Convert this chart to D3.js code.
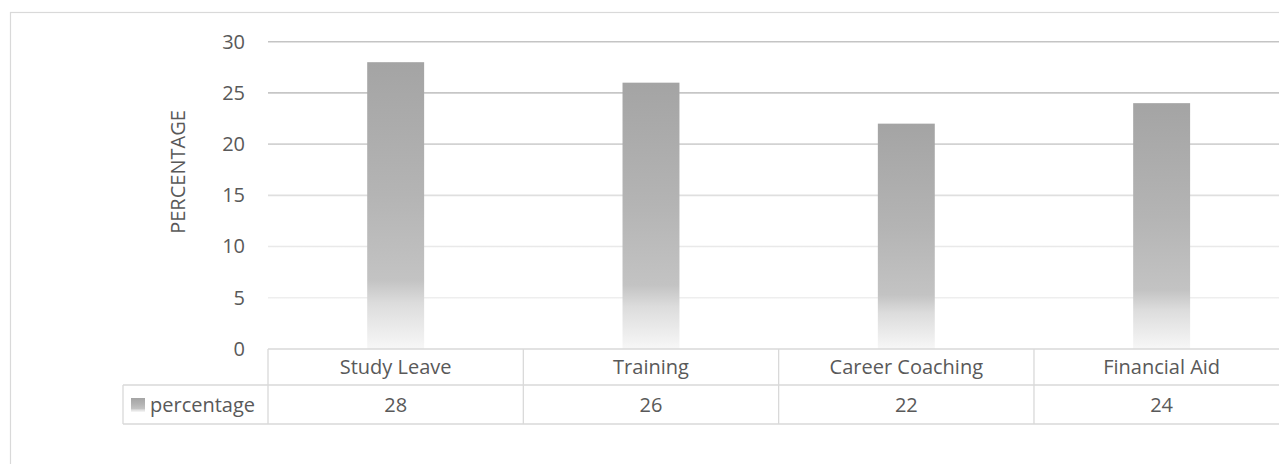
<!DOCTYPE html>
<html>
<head>
<meta charset="utf-8">
<script src="https://cdn.jsdelivr.net/npm/d3@7"></script>
<style>
  html, body { margin: 0; padding: 0; background: #fff; }
  svg { display: block; }
  text { font-family: "Open Sans", "DejaVu Sans", sans-serif; fill: #595959; }
</style>
</head>
<body>
<svg id="chart" width="1279" height="464"></svg>
<script>
// Data
const categories = ["Study Leave", "Training", "Career Coaching", "Financial Aid"];
const seriesName = "percentage";
const values = [28, 26, 22, 24];
const yTicks = [0, 5, 10, 15, 20, 25, 30];
const axisTitle = "PERCENTAGE";

const W = 1279, H = 464;
const svg = d3.select("#chart");

// Layout
const plotLeft = 268, plotRight = 1289.3;
const plotTop = 41.7, plotBottom = 349;
const headerBottom = 385, rowBottom = 424;
const keyLeft = 123;
const borderColor = "#d9d9d9";

const x = d3.scaleBand().domain(categories).range([plotLeft, plotRight]).padding(0);
const xBar = d3.scaleBand().domain(categories).range([plotLeft, plotRight])
  .paddingInner(0.777).paddingOuter(0.3885);
const y = d3.scaleLinear().domain([0, 30]).range([plotBottom, plotTop]);

const defs = svg.append("defs");

// Bar fill: darker grey at the top fading to near white at the base
const barGrad = defs.append("linearGradient")
  .attr("id", "barFill").attr("x1", 0).attr("y1", 0).attr("x2", 0).attr("y2", 1);
[[0, "#a4a4a4"], [0.46, "#b4b4b4"], [0.76, "#c3c3c3"], [0.84, "#dcdcdc"], [1, "#f7f7f7"]]
  .forEach(([o, c]) => barGrad.append("stop").attr("offset", o).attr("stop-color", c));

// Gridlines fade as they approach the baseline
const gridGrad = defs.append("linearGradient")
  .attr("id", "gridStroke").attr("gradientUnits", "userSpaceOnUse")
  .attr("x1", 0).attr("x2", 0).attr("y1", y(30)).attr("y2", y(0));
[[0, "#c4c4c4"], [0.2, "#c7c7c7"], [0.45, "#dcdcdc"], [0.7, "#ebebeb"], [1, "#f2f2f2"]]
  .forEach(([o, c]) => gridGrad.append("stop").attr("offset", o).attr("stop-color", c));

// Chart area border
svg.append("rect")
  .attr("x", 10.5).attr("y", 12.5).attr("width", W + 20).attr("height", H + 20)
  .attr("fill", "#fff").attr("stroke", borderColor).attr("stroke-width", 1.2);

// Horizontal gridlines
svg.append("g").selectAll("line")
  .data(yTicks.filter(d => d > 0))
  .join("line")
  .attr("x1", plotLeft).attr("x2", plotRight)
  .attr("y1", d => y(d)).attr("y2", d => y(d))
  .attr("stroke", "url(#gridStroke)").attr("stroke-width", 1.6);

// Y axis tick labels
const yAxis = d3.axisLeft(y).tickValues(yTicks).tickSize(0).tickPadding(0);
const gy = svg.append("g").attr("transform", `translate(${245},0)`).call(yAxis);
gy.select(".domain").remove();
gy.selectAll("text")
  .attr("font-size", 20).attr("fill", "#595959")
  .style("font-family", '"Open Sans", "DejaVu Sans", sans-serif');

// Axis title
svg.append("text")
  .attr("transform", `translate(${185},${172}) rotate(-90)`)
  .attr("text-anchor", "middle")
  .attr("font-size", 20)
  .text(axisTitle);

// Bars
svg.append("g").selectAll("rect")
  .data(categories.map((c, i) => ({ c, v: values[i] })))
  .join("rect")
  .attr("x", d => xBar(d.c))
  .attr("width", xBar.bandwidth())
  .attr("y", d => y(d.v))
  .attr("height", d => y(0) - y(d.v))
  .attr("fill", "url(#barFill)");

// Data table
const table = svg.append("g").attr("fill", "none").attr("stroke", borderColor).attr("stroke-width", 1.3);
// horizontal rules
table.append("line").attr("x1", plotLeft).attr("x2", plotRight + 20).attr("y1", plotBottom).attr("y2", plotBottom);
table.append("line").attr("x1", keyLeft).attr("x2", plotRight + 20).attr("y1", headerBottom).attr("y2", headerBottom);
table.append("line").attr("x1", keyLeft).attr("x2", plotRight + 20).attr("y1", rowBottom).attr("y2", rowBottom);
// key cell left edge
table.append("line").attr("x1", keyLeft).attr("x2", keyLeft).attr("y1", headerBottom).attr("y2", rowBottom);
// column separators
table.selectAll("line.sep")
  .data(categories.concat(["__end"]))
  .join("line").attr("class", "sep")
  .attr("x1", (d, i) => i < categories.length ? x(d) : plotRight)
  .attr("x2", (d, i) => i < categories.length ? x(d) : plotRight)
  .attr("y1", plotBottom).attr("y2", rowBottom);

// Category labels (header row)
svg.append("g").selectAll("text")
  .data(categories)
  .join("text")
  .attr("x", d => x(d) + x.bandwidth() / 2)
  .attr("y", (plotBottom + headerBottom) / 2 + 7)
  .attr("text-anchor", "middle")
  .attr("font-size", 20)
  .text(d => d);

// Value row
svg.append("g").selectAll("text")
  .data(categories.map((c, i) => ({ c, v: values[i] })))
  .join("text")
  .attr("x", d => x(d.c) + x.bandwidth() / 2)
  .attr("y", (headerBottom + rowBottom) / 2 + 7)
  .attr("text-anchor", "middle")
  .attr("font-size", 20)
  .text(d => d.v);

// Legend key and series name
svg.append("rect")
  .attr("x", 131).attr("y", 398).attr("width", 14).attr("height", 14)
  .attr("fill", "url(#barFill)");
svg.append("text")
  .attr("x", 150).attr("y", (headerBottom + rowBottom) / 2 + 7)
  .attr("font-size", 20)
  .text(seriesName);
</script>
</body>
</html>
